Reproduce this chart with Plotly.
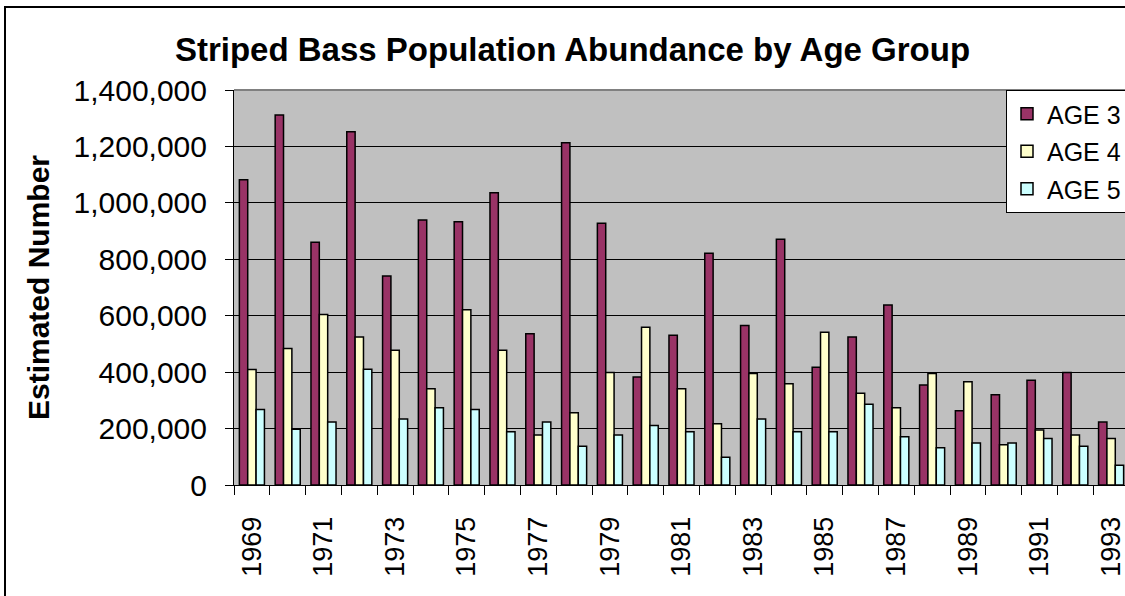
import plotly.graph_objects as go

years = list(range(1969, 1994))
age3 = [1082000, 1311000, 860000, 1252000, 741000, 939000, 933000, 1036000, 536000,
        1213000, 928000, 383000, 531000, 821000, 565000, 871000, 417000, 525000,
        638000, 354000, 263000, 320000, 371000, 399000, 223000]
age4 = [409000, 484000, 604000, 525000, 478000, 341000, 621000, 478000, 177000,
        256000, 399000, 559000, 341000, 217000, 395000, 359000, 541000, 325000,
        274000, 395000, 366000, 143000, 195000, 177000, 165000]
age5 = [268000, 198000, 223000, 410000, 234000, 274000, 268000, 189000, 223000,
        137000, 177000, 211000, 189000, 98000, 234000, 189000, 189000, 286000,
        171000, 132000, 149000, 149000, 165000, 137000, 70000]
series_names = ["AGE 3", "AGE 4", "AGE 5"]
colors = ["#993366", "#FFFFCC", "#CCFFFF"]
label_years = [y for y in years if y % 2 == 1]
y_ticks = list(range(0, 1400001, 200000))

FONT = "Liberation Sans, Arial, sans-serif"

W, H = 1125, 596
L, R, T, B = 234, 0, 90, 111
pw, ph = W - L - R, H - T - B

def px_x(x):
    return (x - L) / pw

def px_y(y):
    return (H - B - y) / ph

fig = go.Figure()
for name, vals, col in zip(series_names, [age3, age4, age5], colors):
    fig.add_trace(go.Bar(
        x=years, y=vals, name=name, legendgroup=name,
        marker=dict(color=col, line=dict(color="black", width=1.5)),
    ))

cat_w = 35.8
fig.update_layout(
    width=W, height=H,
    margin=dict(l=L, r=R, t=T, b=B, autoexpand=False),
    paper_bgcolor="white",
    plot_bgcolor="#C0C0C0",
    barmode="group", bargap=0.30, bargroupgap=0,
    font=dict(family=FONT, color="black"),
    title=dict(text="Striped Bass Population Abundance by Age Group",
               x=572.5 / W, xanchor="center", y=1 - 49 / H, yanchor="middle",
               font=dict(size=33, weight="bold", family=FONT, color="black")),
    legend=dict(x=px_x(1006), y=1.0, xanchor="left", yanchor="top",
                bgcolor="white", bordercolor="black", borderwidth=1,
                font=dict(size=25, family=FONT, color="black"),
                tracegroupgap=2),
    showlegend=True,
)

fig.update_xaxes(
    range=[1968.5, 1968.5 + pw / cat_w],
    tickmode="array", tickvals=label_years, ticktext=[str(y) for y in label_years],
    tickangle=-90, ticks="", ticklabelstandoff=20, ticklabeloverflow="allow",
    tickfont=dict(size=27, family=FONT, color="black"),
    showline=True, linecolor="black", linewidth=1,
    showgrid=False, zeroline=False, automargin=False,
    minor=dict(tickmode="linear", tick0=1968.5, dtick=1, ticks="outside",
               ticklen=9, tickcolor="black", tickwidth=1, showgrid=False),
)
fig.update_yaxes(
    range=[0, 1400000], tickmode="array", tickvals=y_ticks, tickformat=",",
    ticks="outside", ticklen=8, tickcolor="black", tickwidth=1,
    ticklabelstandoff=12,
    tickfont=dict(size=30, family=FONT, color="black"),
    showline=True, linecolor="black", linewidth=1,
    showgrid=True, gridcolor="black", gridwidth=1, zeroline=False,
    automargin=False,
    title=dict(text="Estimated Number", standoff=15,
               font=dict(size=30, weight="bold", family=FONT, color="black")),
)

# plot area top border (gray) and outer chart border
fig.add_shape(type="line", xref="paper", yref="paper", x0=0, x1=1.02, y0=1, y1=1,
              line=dict(color="#808080", width=2), layer="above")
fig.add_shape(type="rect", xref="paper", yref="paper",
              x0=px_x(5), x1=px_x(1140), y0=px_y(610), y1=px_y(7),
              line=dict(color="black", width=2), fillcolor="rgba(0,0,0,0)", layer="above")

fig.write_html("out.html", config={"displayModeBar": False},
               post_script="document.body.style.margin='0px';document.body.style.overflow='hidden';")
